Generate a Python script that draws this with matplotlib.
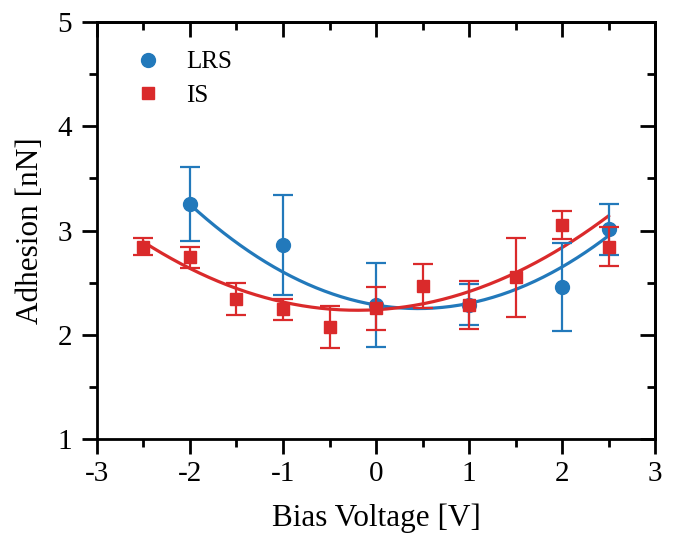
import numpy as np
import matplotlib
matplotlib.use('Agg')
import matplotlib.pyplot as plt
from matplotlib.ticker import MultipleLocator, NullFormatter

plt.rcParams['font.family'] = ['Liberation Serif', 'DejaVu Serif']

# LRS data (blue circles)
lrs_x = [-2, -1, 0, 1, 2, 2.5]
lrs_y = [3.25, 2.86, 2.285, 2.29, 2.46, 3.01]
lrs_err = [0.355, 0.48, 0.40, 0.20, 0.42, 0.245]

# IS data (red squares)
is_x = [-2.5, -2, -1.5, -1, -0.5, 0, 0.5, 1, 1.5, 2, 2.5]
is_y = [2.845, 2.743, 2.34, 2.244, 2.077, 2.254, 2.468, 2.285, 2.55, 3.053, 2.845]
is_err = [0.08, 0.10, 0.155, 0.10, 0.20, 0.205, 0.21, 0.23, 0.38, 0.13, 0.185]

# quadratic fit coefficients (c2, c1, c0)
lrs_fit = [0.1663, -0.15, 2.285]
is_fit = [0.124, 0.05, 2.24]

x_ticks = [-3, -2, -1, 0, 1, 2, 3]
y_ticks = [1, 2, 3, 4, 5]

blue = '#2279bb'
red = '#da2a2b'

fig = plt.figure(figsize=(6.73, 5.34), dpi=100)
ax = fig.add_axes([0.1441, 0.1779, 0.8292, 0.7809])

xf = np.linspace(min(lrs_x), max(lrs_x), 200)
ax.plot(xf, np.polyval(lrs_fit, xf), color=blue, lw=2.3, zorder=2)
xf2 = np.linspace(min(is_x), max(is_x), 200)
ax.plot(xf2, np.polyval(is_fit, xf2), color=red, lw=2.3, zorder=2)

ax.errorbar(lrs_x, lrs_y, yerr=lrs_err, fmt='o', color=blue, ms=10,
            elinewidth=1.6, capsize=7, capthick=1.6, label='LRS', zorder=3)
ax.errorbar(is_x, is_y, yerr=is_err, fmt='s', color=red, ms=9,
            elinewidth=1.6, capsize=7, capthick=1.6, label='IS', zorder=4)

ax.set_xlim(-3, 3)
ax.set_ylim(1, 5)
ax.set_xticks(x_ticks)
ax.set_xticklabels([str(v) for v in x_ticks])
ax.set_yticks(y_ticks)
ax.set_yticklabels([str(v) for v in y_ticks])
ax.xaxis.set_minor_locator(MultipleLocator(0.5))
ax.yaxis.set_minor_locator(MultipleLocator(0.5))

# left / bottom ticks point out
ax.tick_params(which='both', direction='out', width=2, labelsize=21)
ax.tick_params(which='major', length=11)
ax.tick_params(which='minor', length=6)
ax.tick_params(axis='x', which='major', pad=5)
ax.tick_params(axis='y', which='major', pad=7)
for s in ax.spines.values():
    s.set_linewidth(2)

# top / right ticks point in
top = ax.secondary_xaxis('top')
top.set_xticks(x_ticks)
top.xaxis.set_minor_locator(MultipleLocator(0.5))
top.xaxis.set_major_formatter(NullFormatter())
top.tick_params(which='both', direction='in', width=2)
top.tick_params(which='major', length=11)
top.tick_params(which='minor', length=6)
top.spines['top'].set_linewidth(2)
right = ax.secondary_yaxis('right')
right.set_yticks(y_ticks)
right.yaxis.set_minor_locator(MultipleLocator(0.5))
right.yaxis.set_major_formatter(NullFormatter())
right.tick_params(which='both', direction='in', width=2)
right.tick_params(which='major', length=11)
right.tick_params(which='minor', length=6)
right.spines['right'].set_linewidth(2)

ax.set_xlabel('Bias Voltage [V]', fontsize=22.5, labelpad=12)
ax.set_ylabel('Adhesion [nN]', fontsize=22.5, labelpad=9)

handles, labels = ax.get_legend_handles_labels()
handles = [h[0] for h in handles]
ax.legend(handles, labels, loc='upper left', frameon=False, fontsize=18,
          bbox_to_anchor=(0.025, 0.985), handletextpad=0.9, labelspacing=0.45,
          handlelength=1.2)

fig.savefig('out.png', dpi=100)
